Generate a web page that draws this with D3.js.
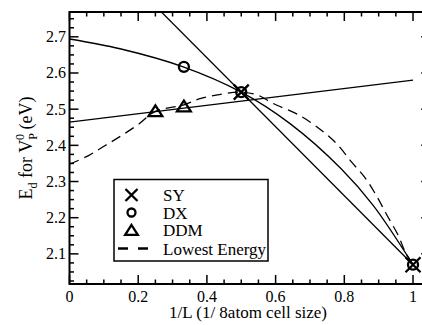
<!doctype html>
<html lang="en">
<head>
    <meta charset="UTF-8">
    <title>Ed for VP0</title>
    <style>
        body { margin: 0; background: #fff; }
        text { font-family: "Liberation Serif", "Times New Roman", serif; fill: #000; }
        .frame { fill: none; stroke: #000; stroke-width: 2; }
        .tick { stroke: #000; stroke-width: 1.5; }
        .curve { fill: none; stroke: #000; stroke-width: 1.3; }
        .mark { fill: none; stroke: #000; stroke-width: 2.3; }
    </style>
</head>
<body>
    <svg width="422" height="325"></svg>
    <script src="https://cdn.jsdelivr.net/npm/d3@7"></script>
    <script>
        // tick values
        const xTicks = [0, 0.2, 0.4, 0.6, 0.8, 1],
            xTickLabels = ["0", "0.2", "0.4", "0.6", "0.8", "1"],
            yTicks = [2.1, 2.2, 2.3, 2.4, 2.5, 2.6, 2.7],
            yTickLabels = ["2.1", "2.2", "2.3", "2.4", "2.5", "2.6", "2.7"];

        // computed points
        const syX = [0.5, 1],
            syY = [2.547, 2.07];
        const dxX = [0.333, 0.5, 1],
            dxY = [2.617, 2.547, 2.07];
        const ddmX = [0.25, 0.333],
            ddmY = [2.494, 2.507];

        // fitted lines / curves
        const syFitX = [0.2, 1],
            syFitY = [2.833, 2.07];
        const dxFitX = [0, 0.147, 0.331, 0.5, 0.642, 0.79, 0.884, 1],
            dxFitY = [2.694, 2.667, 2.617, 2.547, 2.46, 2.336, 2.234, 2.07];
        const ddmFitX = [0, 1],
            ddmFitY = [2.464, 2.58];
        const lowX = [0, 0.054, 0.103, 0.153, 0.202, 0.25, 0.333, 0.38, 0.44, 0.5, 0.55, 0.59, 0.671, 0.734, 0.778, 0.822, 0.86, 0.894, 0.923, 0.957, 0.977, 1],
            lowY = [2.348, 2.371, 2.399, 2.428, 2.459, 2.494, 2.512, 2.529, 2.541, 2.547, 2.538, 2.517, 2.482, 2.441, 2.404, 2.353, 2.311, 2.26, 2.209, 2.151, 2.106, 2.07];

        const legendLabels = ["SY", "DX", "DDM", "Lowest Energy"];

        const FONT = "'Liberation Serif', 'Times New Roman', serif";

        const svg = d3.select("svg"),
            pl = 69.5, pr = 430.2, pt = 12, pb = 284;

        const x = d3.scaleLinear().domain([0, 1.05]).range([pl, pr]);
        const y = d3.scaleLinear().domain([2.0167, 2.7686]).range([pb, pt]);

        const zip = (a, b) => a.map((v, i) => [v, b[i]]);

        svg.append("clipPath").attr("id", "clip")
            .append("rect")
            .attr("x", pl).attr("y", pt)
            .attr("width", pr - pl).attr("height", pb - pt);

        // minor + major ticks on all four sides, pointing inward
        const xMinor = d3.range(0, 1.051, 0.05).filter(v => !xTicks.some(t => Math.abs(t - v) < 1e-6));
        const yMinor = d3.range(2.025, 2.77, 0.025).filter(v => !yTicks.some(t => Math.abs(t - v) < 1e-6));
        const tg = svg.append("g");
        function xt(vals, len) {
            vals.forEach(v => {
                tg.append("line").attr("class", "tick")
                    .attr("x1", x(v)).attr("x2", x(v)).attr("y1", pb).attr("y2", pb - len);
                tg.append("line").attr("class", "tick")
                    .attr("x1", x(v)).attr("x2", x(v)).attr("y1", pt).attr("y2", pt + len);
            });
        }
        function yt(vals, len) {
            vals.forEach(v => {
                tg.append("line").attr("class", "tick")
                    .attr("y1", y(v)).attr("y2", y(v)).attr("x1", pl).attr("x2", pl + len);
                tg.append("line").attr("class", "tick")
                    .attr("y1", y(v)).attr("y2", y(v)).attr("x1", pr).attr("x2", pr - len);
            });
        }
        xt(xTicks, 9); xt(xMinor, 4.5);
        yt(yTicks, 9); yt(yMinor, 4.5);

        // tick labels
        svg.append("g").selectAll("text").data(xTicks).join("text")
            .attr("x", d => x(d)).attr("y", 301.5)
            .attr("text-anchor", "middle")
            .attr("font-family", FONT).attr("font-size", 16)
            .text((d, i) => xTickLabels[i]);
        svg.append("g").selectAll("text").data(yTicks).join("text")
            .attr("x", 66).attr("y", d => y(d) + 5.5)
            .attr("text-anchor", "end")
            .attr("font-family", FONT).attr("font-size", 16)
            .text((d, i) => yTickLabels[i]);

        // axis titles
        svg.append("text")
            .attr("x", 248).attr("y", 318)
            .attr("text-anchor", "middle")
            .attr("font-family", FONT).attr("font-size", 17)
            .text("1/L (1/ 8atom cell size)");

        const ytl = svg.append("text")
            .attr("transform", "translate(32," + (pb + pt) / 2 + ") rotate(-90)")
            .attr("text-anchor", "middle")
            .attr("font-family", FONT).attr("font-size", 18);
        ytl.append("tspan").text("E");
        ytl.append("tspan").attr("dy", 5).attr("font-size", 12).text("d");
        ytl.append("tspan").attr("dy", -5).text(" for V");
        ytl.append("tspan").attr("dy", 5).attr("font-size", 12).text("P");
        ytl.append("tspan").attr("dx", -7).attr("dy", -13).attr("font-size", 12).text("0");
        ytl.append("tspan").attr("dy", 8).text(" (eV)");

        // curves
        const plot = svg.append("g").attr("clip-path", "url(#clip)");
        const straight = d3.line().x(d => x(d[0])).y(d => y(d[1]));
        const smooth = d3.line().x(d => x(d[0])).y(d => y(d[1])).curve(d3.curveCatmullRom.alpha(0.5));

        plot.append("path").attr("class", "curve").attr("d", straight(zip(syFitX, syFitY)));
        plot.append("path").attr("class", "curve").attr("d", smooth(zip(dxFitX, dxFitY)));
        plot.append("path").attr("class", "curve").attr("d", straight(zip(ddmFitX, ddmFitY)));
        plot.append("path").attr("class", "curve")
            .attr("stroke-width", 2.5).attr("stroke-dasharray", "10,6")
            .attr("d", smooth(zip(lowX, lowY)));

        // markers
        const cross = (g, cx, cy, s) => g.append("path").attr("class", "mark")
            .attr("d", `M${cx - s},${cy - s}L${cx + s},${cy + s}M${cx - s},${cy + s}L${cx + s},${cy - s}`);
        const circ = (g, cx, cy, r) => g.append("circle").attr("class", "mark")
            .attr("cx", cx).attr("cy", cy).attr("r", r);
        const tri = (g, cx, cy, s) => g.append("path").attr("class", "mark")
            .attr("d", `M${cx},${cy - s}L${cx + s * 1.15},${cy + s * 0.8}L${cx - s * 1.15},${cy + s * 0.8}Z`);

        zip(syX, syY).forEach(d => cross(svg, x(d[0]), y(d[1]), 7.5));
        zip(dxX, dxY).forEach(d => circ(svg, x(d[0]), y(d[1]), 5));
        zip(ddmX, ddmY).forEach(d => tri(svg, x(d[0]), y(d[1]), 6));

        // frame
        svg.append("rect").attr("class", "frame")
            .attr("x", pl).attr("y", pt)
            .attr("width", pr - pl).attr("height", pb - pt);

        // legend
        const lg = svg.append("g");
        lg.append("rect").attr("x", 114).attr("y", 179.5).attr("width", 154).attr("height", 81.5)
            .attr("fill", "#fff").attr("stroke", "#000").attr("stroke-width", 1.5);
        const rowY = [195, 212.5, 230, 248.5];
        cross(lg, 131.5, rowY[0], 6);
        circ(lg, 131.5, rowY[1], 4);
        tri(lg, 131.5, rowY[2] + 0.5, 5.5);
        lg.append("line").attr("x1", 118).attr("x2", 150).attr("y1", rowY[3]).attr("y2", rowY[3])
            .attr("stroke", "#000").attr("stroke-width", 2.5).attr("stroke-dasharray", "10,10");
        lg.selectAll("text.lab").data(legendLabels).join("text").attr("class", "lab")
            .attr("x", 163).attr("y", (d, i) => rowY[i] + 6)
            .attr("font-family", FONT).attr("font-size", 17)
            .text(d => d);
    </script>
</body>
</html>
